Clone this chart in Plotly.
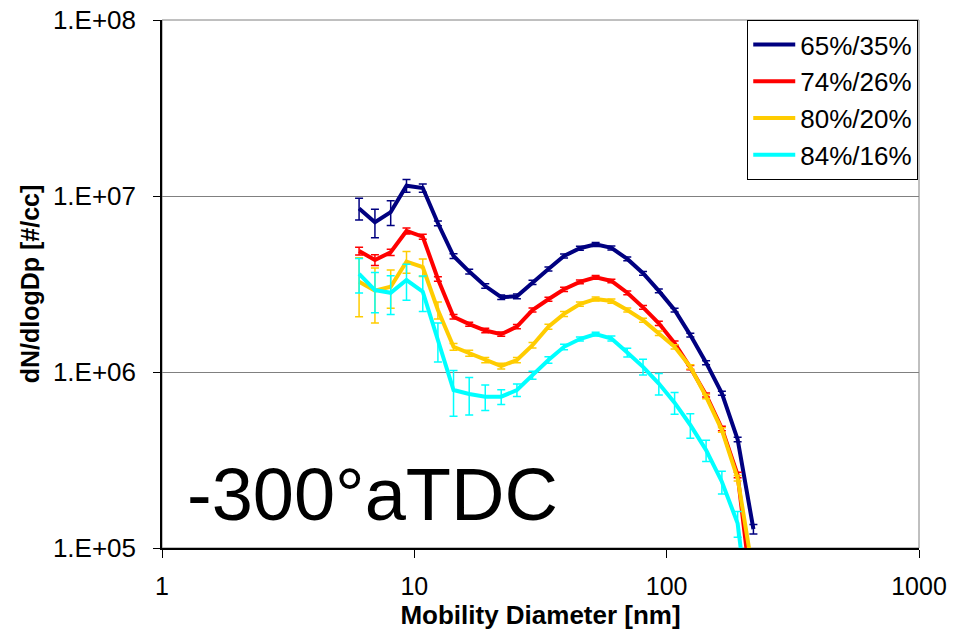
import plotly.graph_objects as go

# EEPS channel mobility diameters [nm]
diam = [6.04, 6.98, 8.06, 9.31, 10.8, 12.4, 14.3, 16.5, 19.1, 22.1, 25.5, 29.4,
        34.0, 39.2, 45.3, 52.3, 60.4, 69.8, 80.6, 93.1, 107.5, 124.1, 143.3,
        165.5, 191.1, 220.7]

s65 = [8.5e6, 7.1e6, 8.1e6, 1.145e7, 1.11e7, 7.0e6, 4.56e6, 3.72e6, 3.08e6, 2.66e6,
       2.69e6, 3.23e6, 3.85e6, 4.56e6, 5.05e6, 5.31e6, 5.07e6, 4.39e6, 3.64e6,
       2.89e6, 2.25e6, 1.62e6, 1.13e6, 7.57e5, 4.14e5, 1.28e5]
e65 = [1.2e6, 1.3e6, 1.3e6, 9.5e5, 6.0e5, 2.2e5, 1.4e5, 1.1e5, 9e4, 8e4,
       8e4, 9e4, 1.0e5, 1.2e5, 1.3e5, 1.4e5, 1.3e5, 1.1e5, 9e4,
       7e4, 5.5e4, 4e4, 3e4, 2e4, 1.2e4, 8e3]

s74 = [4.87e6, 4.33e6, 4.79e6, 6.33e6, 5.87e6, 3.38e6, 2.06e6, 1.87e6, 1.72e6, 1.64e6,
       1.81e6, 2.25e6, 2.59e6, 2.95e6, 3.25e6, 3.45e6, 3.29e6, 2.82e6, 2.33e6,
       1.89e6, 1.46e6, 1.06e6, 7.4e5, 4.78e5, 2.6e5, 4.6e4]
e74 = [2.5e5, 3.0e5, 2.0e5, 2.5e5, 2.0e5, 1.0e5, 6e4, 5e4, 5e4, 4.5e4,
       5e4, 6e4, 7e4, 8e4, 8e4, 9e4, 8e4, 7e4, 6e4,
       5e4, 4e4, 3e4, 2e4, 1.4e4, 9e3, 0]

s80 = [3.26e6, 2.90e6, 3.05e6, 4.24e6, 3.94e6, 2.25e6, 1.39e6, 1.28e6, 1.17e6, 1.08e6,
       1.17e6, 1.42e6, 1.81e6, 2.14e6, 2.43e6, 2.60e6, 2.53e6, 2.25e6, 1.97e6,
       1.66e6, 1.39e6, 1.07e6, 7.24e5, 4.68e5, 2.49e5, 7.0e4]
e80 = [1.2e6, 1.0e6, 7.5e5, 6.0e5, 4.5e5, 2.5e5, 6e4, 5e4, 4e4, 4e4,
       4e4, 5e4, 6e4, 7e4, 7e4, 7e4, 7e4, 6e4, 5e4,
       5e4, 4e4, 3e4, 2e4, 1.4e4, 9e3, 0]

s84 = [3.61e6, 2.92e6, 2.82e6, 3.33e6, 2.86e6, 1.52e6, 7.9e5, 7.5e5, 7.24e5, 7.24e5,
       7.9e5, 9.6e5, 1.17e6, 1.39e6, 1.54e6, 1.64e6, 1.55e6, 1.29e6, 1.07e6,
       8.6e5, 6.7e5, 5.0e5, 3.6e5, 2.38e5, 1.38e5, 2.6e4]
e84 = [8.0e5, 7.5e5, 7.0e5, 7.7e5, 6.5e5, 3.8e5, 2.3e5, 1.8e5, 1.2e5, 7e4,
       6.5e4, 5e4, 5e4, 5e4, 4e4, 4e4, 5e4, 7.5e4, 1.1e5,
       1.2e5, 9.5e4, 8e4, 5e4, 3.5e4, 2.3e4, 0]

series_names = ["65%/35%", "74%/26%", "80%/20%", "84%/16%"]
series_vals = [s65, s74, s80, s84]
series_errs = [e65, e74, e80, e84]
colors = ["#000080", "#FF0000", "#FFCC00", "#00FFFF"]

ytick_vals = [1e5, 1e6, 1e7, 1e8]
ytick_text = ["1.E+05", "1.E+06", "1.E+07", "1.E+08"]
xtick_vals = [1, 10, 100, 1000]
xtick_text = ["1", "10", "100", "1000"]

FONT = "Liberation Sans, Arial, sans-serif"

fig = go.Figure()
for name, vals, errs, col in zip(series_names, series_vals, series_errs, colors):
    fig.add_trace(go.Scatter(
        x=diam[:len(vals)], y=vals, name=name, mode="lines",
        line=dict(color=col, width=4),
        error_y=dict(type="data", array=errs, visible=True, color=col,
                     thickness=1.5, width=4),
    ))

fig.add_shape(type="rect", xref="paper", yref="paper", x0=0, y0=0, x1=1, y1=1,
              line=dict(color="#808080", width=1), layer="below")

fig.add_annotation(text="-300°aTDC", xref="paper", yref="paper",
                   x=0.03, y=0.101, xanchor="left", yanchor="middle",
                   showarrow=False, font=dict(family=FONT, size=74, color="black"))

fig.update_layout(
    width=972, height=637,
    margin=dict(l=162, r=53, t=20, b=89, autoexpand=False),
    paper_bgcolor="white", plot_bgcolor="white",
    font=dict(family=FONT, color="black"),
    showlegend=True,
    legend=dict(x=0.999, y=1, xanchor="right", yanchor="top",
                bgcolor="white", bordercolor="black", borderwidth=1,
                font=dict(family=FONT, size=26, color="black"),
                tracegroupgap=0, itemwidth=42),
)

fig.update_xaxes(
    type="log", range=[0, 3], automargin=False,
    tickvals=xtick_vals, ticktext=xtick_text,
    tickfont=dict(family=FONT, size=25, color="black"),
    ticks="outside", ticklen=8, tickcolor="black", tickwidth=1,
    ticklabelstandoff=7,
    showline=True, linecolor="black", linewidth=1.5,
    showgrid=False, zeroline=False,
    title=dict(text="<b>Mobility Diameter [nm]</b>",
               font=dict(family=FONT, size=26, color="black"), standoff=0),
)
fig.update_yaxes(
    type="log", range=[5, 8], automargin=False,
    tickvals=ytick_vals, ticktext=ytick_text,
    tickfont=dict(family=FONT, size=26, color="black"),
    ticks="outside", ticklen=7, tickcolor="black", tickwidth=1,
    showline=True, linecolor="black", linewidth=1.5,
    showgrid=True, gridcolor="#808080", gridwidth=1, zeroline=False,
    ticklabelstandoff=12,
    title=dict(text="<b>dN/dlogDp [#/cc]</b>",
               font=dict(family=FONT, size=25, color="black"), standoff=6),
)

fig.write_html("out.html")
